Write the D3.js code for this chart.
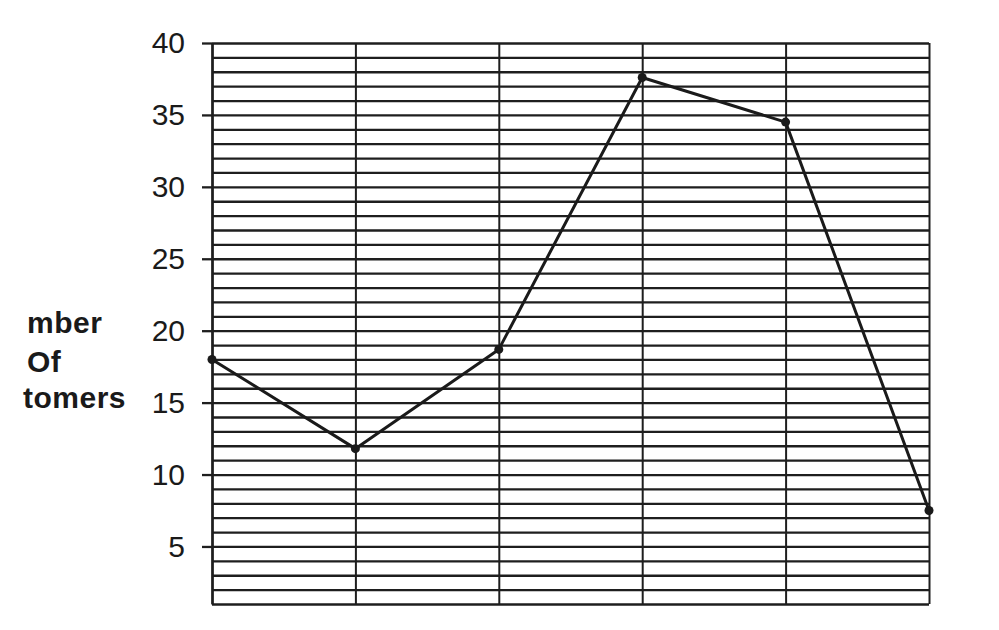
<!DOCTYPE html>
<html>
<head>
<meta charset="utf-8">
<script src="https://cdn.jsdelivr.net/npm/d3@7/dist/d3.min.js"></script>
<style>
  html, body { margin: 0; padding: 0; background: #fff; }
  svg { display: block; }
</style>
</head>
<body>
<svg id="chart" width="999" height="630"></svg>
<script>
// ---- data ----
const categories = ["1", "2", "3", "4", "5", "6"];
const customers = [18, 11.8, 18.7, 37.6, 34.5, 7.5];
const yTickValues = [5, 10, 15, 20, 25, 30, 35, 40];
const yGridValues = d3.range(1, 41);
// axis title as visible in the reference (left part is cropped there)
const yLabelLines = ["mber", "Of", "tomers"];

// ---- layout ----
const W = 999, H = 630;
const plotLeft = 212, plotRight = 929, plotTop = 43, plotBottom = 604;

const svg = d3.select("#chart");

const x = d3.scalePoint().domain(categories).range([plotLeft, plotRight]);
const y = d3.scaleLinear().domain([1, 40]).range([plotBottom, plotTop]);

// horizontal grid lines
svg.append("g")
  .attr("transform", `translate(${plotLeft},0)`)
  .call(d3.axisLeft(y).tickValues(yGridValues).tickSize(-(plotRight - plotLeft)).tickSizeOuter(0).tickFormat(""))
  .call(g => g.select(".domain").remove())
  .call(g => g.selectAll(".tick line").attr("stroke", "#1e1e1e").attr("stroke-width", 2.3));

// vertical grid lines
svg.append("g")
  .attr("transform", `translate(0,${plotBottom})`)
  .call(d3.axisBottom(x).tickSize(-(plotBottom - plotTop)).tickSizeOuter(0).tickFormat(""))
  .call(g => g.select(".domain").remove())
  .call(g => g.selectAll(".tick line").attr("stroke", "#1e1e1e").attr("stroke-width", 2));

// labelled y axis ticks
svg.append("g")
  .attr("transform", `translate(${plotLeft},0)`)
  .call(d3.axisLeft(y).tickValues(yTickValues).tickSize(10).tickSizeOuter(0).tickPadding(17))
  .call(g => g.select(".domain").attr("stroke", "#1e1e1e").attr("stroke-width", 2.5))
  .call(g => g.selectAll(".tick line").attr("stroke", "#1e1e1e").attr("stroke-width", 2.3))
  .call(g => g.selectAll(".tick text")
    .attr("fill", "#1a1a1a")
    .attr("font-family", "'Liberation Sans', Arial, sans-serif")
    .attr("font-size", 30));

// data line
const line = d3.line()
  .x((d, i) => x(categories[i]))
  .y(d => y(d));

svg.append("path")
  .datum(customers)
  .attr("fill", "none")
  .attr("stroke", "#1a1a1a")
  .attr("stroke-width", 3)
  .attr("stroke-linejoin", "round")
  .attr("d", line);

svg.append("g")
  .selectAll("circle")
  .data(customers)
  .join("circle")
  .attr("cx", (d, i) => x(categories[i]))
  .attr("cy", d => y(d))
  .attr("r", 4.5)
  .attr("fill", "#1a1a1a");

// y axis title
const titlePos = [
  { x: 27, y: 333 },
  { x: 27, y: 372 },
  { x: 23, y: 408 }
];
svg.append("g")
  .selectAll("text")
  .data(yLabelLines)
  .join("text")
  .attr("x", (d, i) => titlePos[i].x)
  .attr("y", (d, i) => titlePos[i].y)
  .attr("text-anchor", "start")
  .attr("font-family", "'Liberation Sans', Arial, sans-serif")
  .attr("font-weight", "bold")
  .attr("font-size", 30)
  .attr("letter-spacing", 0.5)
  .attr("fill", "#1a1a1a")
  .text(d => d);
</script>
</body>
</html>
